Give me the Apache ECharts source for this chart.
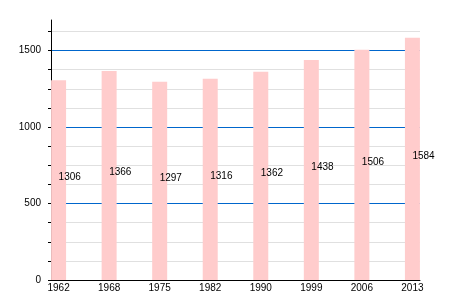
<!DOCTYPE html>
<html><head><meta charset="utf-8">
<script src="https://cdn.jsdelivr.net/npm/echarts@6/dist/echarts.min.js"></script>
<style>html,body{margin:0;padding:0;background:#fff}#c{width:450px;height:300px}</style>
</head><body><div id="c"></div>
<script>
const years = ['1962','1968','1975','1982','1990','1999','2006','2013'];
const population = [1306,1366,1297,1316,1362,1438,1506,1584];
const yTickLabels = [0,500,1000,1500];

const chart = echarts.init(document.getElementById('c'), null, {renderer:'canvas'});
chart.setOption({
  animation:false,
  textStyle:{fontFamily:'Liberation Sans, Arial, sans-serif'},
  grid:{left:51,right:30,top:20,bottom:20,containLabel:false},
  xAxis:{
    type:'value', min:-0.15, max:7.15,
    axisLine:{show:true,onZero:false,lineStyle:{color:'#000',width:1}},
    axisTick:{show:false},
    splitLine:{show:false},
    axisLabel:{customValues:years.map((y,i)=>i), formatter:v=>years[Math.round(v)]||'', color:'#000', fontSize:10, margin:3}
  },
  yAxis:[{
    type:'value', min:0, max:1700, interval:125,
    axisLine:{show:true,onZero:false,lineStyle:{color:'#000',width:1}},
    axisTick:{show:true,length:3,lineStyle:{color:'#000'}},
    axisLabel:{color:'#000', fontSize:10, margin:10, showMaxLabel:false,
      formatter:v=>(yTickLabels.indexOf(v)>=0 ? String(v) : '')},
    splitLine:{show:true,showMaxLine:false,lineStyle:{color:'#e0e0e0',width:1}}
  },{
    type:'value', min:0, max:1700, interval:500, position:'left',
    axisLine:{show:false}, axisTick:{show:false}, axisLabel:{show:false},
    splitLine:{show:true,showMinLine:false,showMaxLine:false,lineStyle:{color:'#0066cc',width:1}}
  }],
  series:[{
    type:'bar',
    data:population.map((v,i)=>[i,v]),
    barWidth:15,
    itemStyle:{color:'#ffcccc'},
    label:{show:true, position:['50%','50%'], align:'left', verticalAlign:'middle', offset:[0,-3], color:'#000', fontSize:10, formatter:p=>p.value[1]}
  }]
});
</script></body></html>
